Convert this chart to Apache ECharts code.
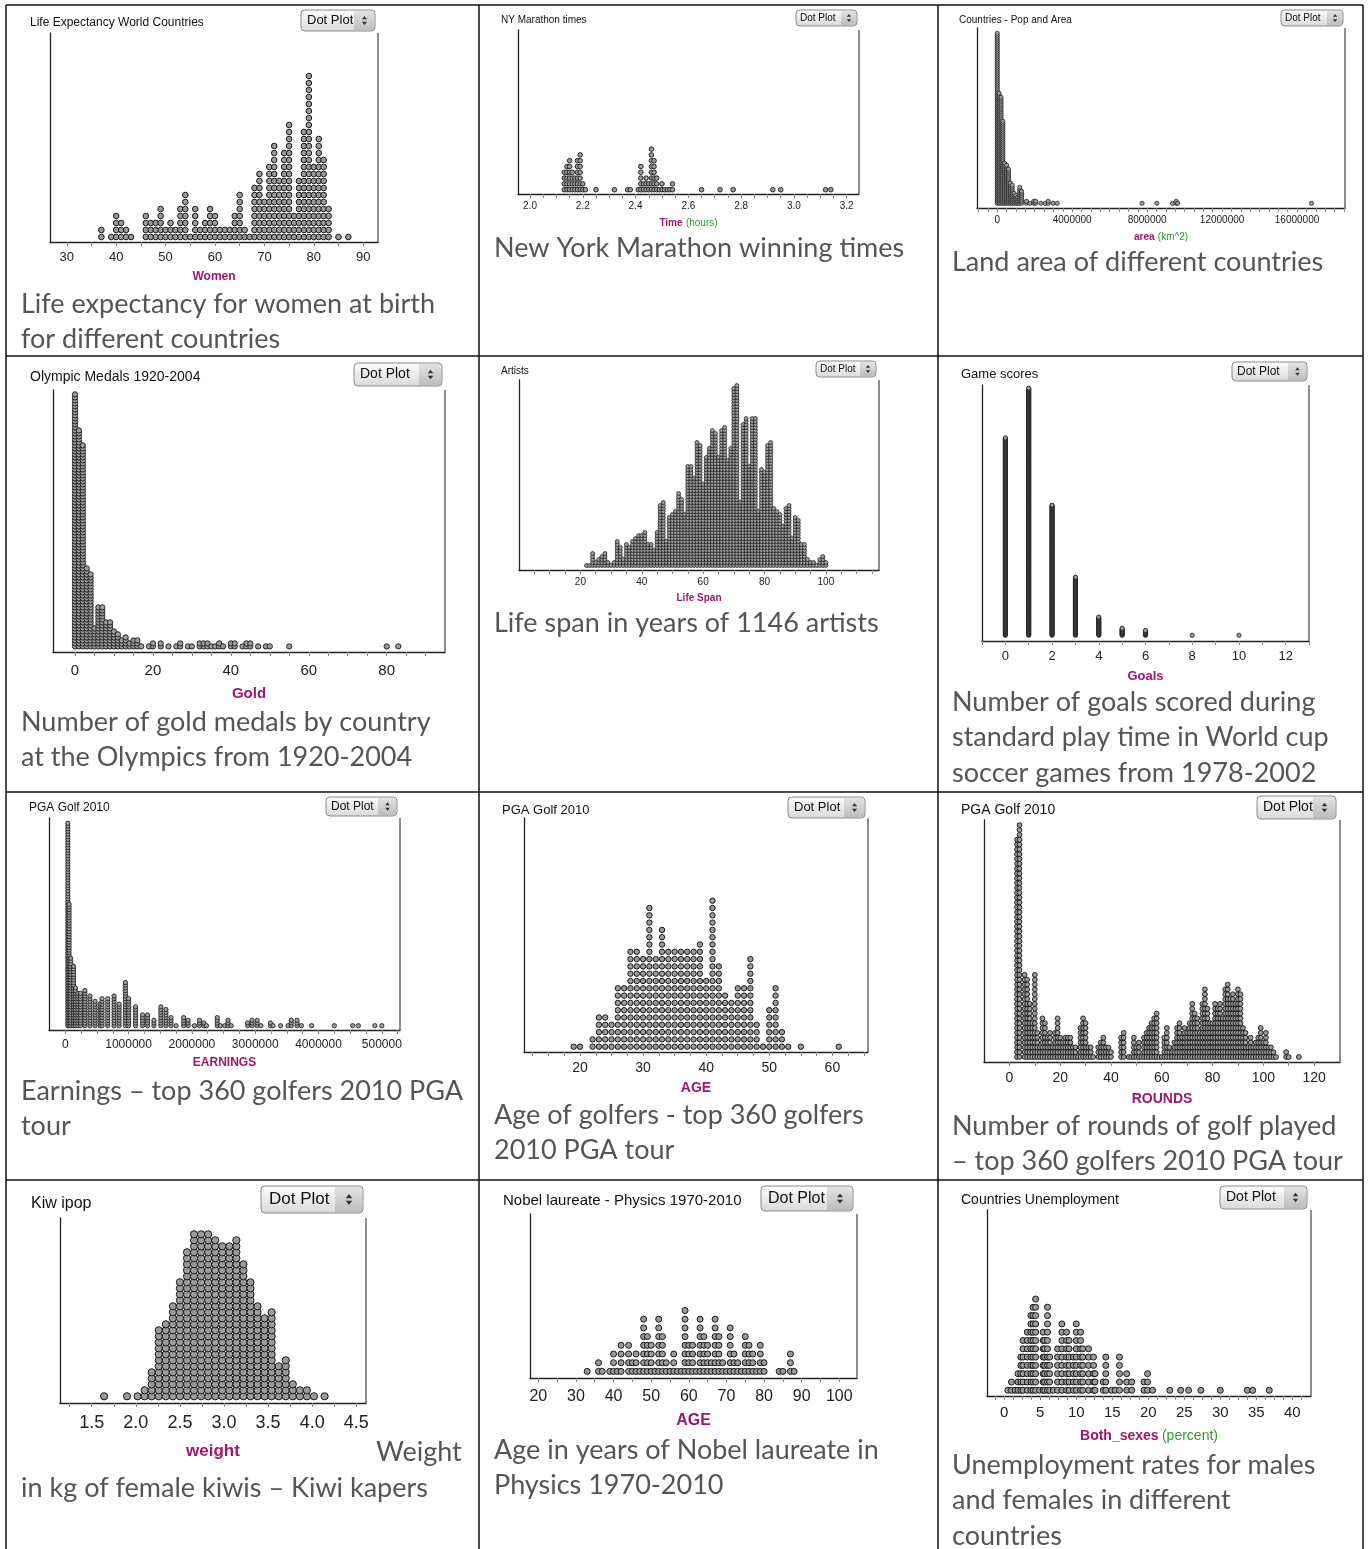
<!DOCTYPE html>
<html>
<head>
<meta charset="utf-8">
<title>Dot plots</title>
<script src="https://cdn.jsdelivr.net/npm/echarts@6/dist/echarts.min.js"></script>
<style>
  html, body { margin: 0; padding: 0; background: #fff; }
  #main { width: 1369px; height: 1549px; }
</style>
</head>
<body>
<div id="main"></div>
<script>
// each dot plot = values + how many dots are stacked on each value

// life expectancy, women
const lifeVals = [37,39,40,41,42,43,46,47,48,49,50,51,52,53,54,55,56,57,58,59,60,61,62,63,64,65,66,67,68,69,70,71,72,73,74,75,76,77,78,79,80,81,82,83,85,87];
const lifeCounts = [2,1,4,3,2,1,4,3,3,5,2,3,2,5,7,1,5,2,3,5,4,2,2,2,4,7,2,1,8,10,6,11,14,9,13,17,4,9,16,24,11,15,12,5,1,1];
const lifeTicks = [30,40,50,60,70,80,90];

// NY marathon winning times (hours)
const marathonVals = [2.13,2.14,2.15,2.16,2.17,2.18,2.19,2.20,2.21,2.25,2.32,2.37,2.38,2.41,2.42,2.43,2.44,2.45,2.46,2.47,2.48,2.49,2.50,2.51,2.52,2.53,2.54,2.65,2.72,2.77,2.92,2.95,3.12,3.14];
const marathonCounts = [4,5,6,4,3,6,7,2,1,1,1,1,1,1,5,2,3,2,8,6,3,1,2,1,1,1,2,1,1,1,1,1,1,1];
const marathonTicks = [2.0,2.2,2.4,2.6,2.8,3.0,3.2];

// land area (km^2)
const areaVals = [0,100000,200000,300000,400000,500000,600000,700000,800000,900000,1000000,1100000,1200000,1300000,1560000,1750000,1950000,2050000,2330000,2560000,2720000,2980000,3200000,7730000,8520000,9350000,9550000,9630000,16770000];
const areaCounts = [86,56,54,42,21,20,18,11,10,6,5,4,9,7,2,1,2,2,1,1,2,1,1,1,1,1,2,1,1];
const areaTicks = [0,4000000,8000000,12000000,16000000];

// olympic gold medals
const goldVals = [0,1,2,3,4,5,6,7,8,9,10,11,12,13,14,15,16,17,19,20,22,24,26,27,29,30,32,33,34,35,36,37,38,40,41,43,44,45,47,49,50,55,80,83];
const goldCounts = [85,73,68,27,25,7,14,14,9,9,6,5,3,4,2,3,3,1,1,2,2,1,1,2,1,1,2,2,2,1,1,2,1,2,2,1,2,2,1,1,1,1,1,1];
const goldTicks = [0,20,40,60,80];

// artists life span
const spanVals = [22,23,24,25,26,27,28,29,30,31,32,33,34,35,36,37,38,39,40,41,42,43,44,45,46,47,48,49,50,51,52,53,54,55,56,57,58,59,60,61,62,63,64,65,66,67,68,69,70,71,72,73,74,75,76,77,78,79,80,81,82,83,84,85,86,87,88,89,90,91,92,93,94,95,96,97,98,99,100];
const spanCounts = [1,1,5,2,3,4,5,2,1,2, 9,7,3,8,7,9,10,11,11,12, 8,8,6,12,21,22,9,17,18,19, 25,23,18,34,34,30,42,41,28,37, 40,46,45,37,46,47,36,40,60,61, 22,48,50,34,50,50,19,33,32,41, 42,20,19,18,14,20,21,10,17,16, 8,8,3,2,2,1,3,4,2];
const spanTicks = [20,40,60,80,100];

// world cup goals per game
const goalVals = [0,1,2,3,4,5,6,8,10];
const goalCounts = [283,354,187,84,27,11,8,1,1];
const goalTicks = [0,2,4,6,8,10,12];

// PGA 2010 earnings
const earnVals = [40000,60000,85000,130000,160000,200000,240000,310000,390000,470000,550000,580000,670000,770000,850000,950000,1000000,1110000,1220000,1300000,1400000,1510000,1590000,1670000,1750000,1870000,1940000,2040000,2120000,2190000,2230000,2400000,2450000,2520000,2570000,2620000,2880000,2950000,3030000,3090000,3240000,3280000,3400000,3520000,3570000,3660000,3730000,3890000,4250000,4540000,4630000,4890000,5000000];
const earnCounts = [76,46,26,23,15,13,13,14,12,10,9,11,11,12,9,17,11,8,5,5,3,8,7,4,1,4,3,1,3,2,1,4,1,1,3,1,2,3,3,1,2,1,1,1,3,3,1,1,1,1,1,1,1];
const earnTicks = [0,1000000,2000000,3000000,4000000,5000000];
const earnTickText = ['0','1000000','2000000','3000000','4000000','500000'];

// PGA 2010 age
const ageVals = [19,20,22,23,24,25,26,27,28,29,30,31,32,33,34,35,36,37,38,39,40,41,42,43,44,45,46,47,48,49,50,51,52,53,55,61];
const ageCounts = [1,1,2,5,5,4,9,9,14,14,13,20,13,17,14,14,14,14,14,15,10,21,12,8,7,9,9,13,4,1,6,9,3,1,1,1];
const ageTicks = [20,30,40,50,60];

// PGA 2010 rounds
const roundVals = [3,4,6,7,8,9,10,11,12,13,14,15,16,17,18,19,20,21,22,23,24,25,26,27,28,29,30,31,32,33,35,36,37,38,39,40,44,45,47,48,49,50,51,52,53,54,55,56,57,58,59,60,61,62,63,64,65,66,67,68,69,70,71,72,73,74,75,76,77,78,79,80,81,82,83,84,85,86,87,88,89,90,91,92,93,94,95,96,97,98,99,100,101,102,103,104,105,109,110,114];
const roundCounts = [46,49,18,17,12,8,18,6,3,9,8,5,6,3,6,9,5,4,5,5,5,3,3,1,7,9,8,3,3,1,3,4,5,3,3,2,5,6,1,1,5,3,4,1,5,6,7,8,9,10,1,1,5,7,3,2,4,7,8,5,7,6,8,12,10,9,6,12,15,11,8,8,12,11,12,9,15,16,13,14,12,15,14,7,6,3,5,3,4,5,7,4,6,3,3,2,1,2,1,1];
const roundTicks = [0,20,40,60,80,100,120];

// kiwi weights (kg)
const kiwiVals = [1.64,1.90,2.02,2.10,2.18,2.26,2.34,2.42,2.50,2.58,2.66,2.74,2.82,2.90,2.98,3.06,3.14,3.22,3.30,3.38,3.46,3.54,3.62,3.70,3.78,3.86,3.94,4.02,4.14];
const kiwiCounts = [1,1,1,2,5,12,13,16,20,25,28,28,28,27,26,26,27,23,20,16,14,15,6,7,3,2,2,1,1];
const kiwiTicks = [1.5,2.0,2.5,3.0,3.5,4.0,4.5];

// nobel physics laureates age
const nobelVals = [33,36,37,39,40,41,42,44,45,46,47,48,49,50,51,52,53,54,55,56,57,58,59,60,61,62,63,64,65,66,67,68,69,70,71,72,73,74,75,76,77,78,79,80,84,85,87,88];
const nobelCounts = [1,2,1,1,3,1,4,4,2,3,1,7,5,4,1,7,5,2,1,3,1,1,8,4,4,1,7,5,4,2,7,5,2,1,6,3,2,1,5,4,3,1,4,2,1,1,3,1];
const nobelTicks = [20,30,40,50,60,70,80,90,100];

// unemployment, both sexes (percent)
const unempVals = [0.5,1.0,1.5,1.9,2.3,2.6,3.2,3.7,4.0,4.35,4.9,5.4,5.6,6.0,6.3,6.8,7.4,8.0,8.65,9.0,9.6,10.0,10.6,10.9,11.7,12.4,12.6,13.75,14.1,14.9,15.4,16.0,17.0,17.7,19.4,19.9,20.6,23.0,24.5,25.6,27.3,30.0,33.75,34.5,36.8];
const unempCounts = [1,2,1,3,5,7,8,10,11,12,1,8,7,11,5,1,6,9,8,7,5,9,8,6,6,5,3,2,5,1,1,5,3,2,2,3,1,1,1,1,1,1,1,1,1];
const unempTicks = [0,5,10,15,20,25,30,35,40];

// ---- look ----
const MAG = '#a0166c';
const GREEN = '#2e9a2e';
const SANS = '"Liberation Sans", Arial, sans-serif';
const CAPTION_FONT = 'Lato, "Open Sans", sans-serif';

const fixed1 = v => v.toFixed(1);
const plain = v => String(v);

// box = [left, top, right, axisY]; tick = [from, to, step]
const panels = [
  { vals: lifeVals, counts: lifeCounts, labels: lifeTicks, fmt: plain,
    box: [50, 33, 378, 242], xMin: 26.6, xMax: 93.0, tick: [30, 90, 5],
    fs: 13, margin: 8.5, name: '{a|Women}', nameFs: 12, nameY: 277,
    dot: 5.6, step: 7, off: 5, bw: 1,
    title: 'Life Expectancy World Countries', titleFs: 12, titleXY: [30, 23],
    btn: [301, 10, 74, 21],
    caption: 'Life expectancy for women at birth\nfor different countries', capXY: [21, 304] },
  { vals: marathonVals, counts: marathonCounts, labels: marathonTicks, fmt: fixed1,
    box: [518, 30, 859, 194], xMin: 1.9545, xMax: 3.2467, tick: [2.0, 3.2, 0.05],
    fs: 10, margin: 7, name: '{a|Time} {b|(hours)}', nameFs: 10, nameY: 222,
    dot: 4.6, step: 5.8, off: 4.3, bw: 0.9,
    title: 'NY Marathon times', titleFs: 10, titleXY: [501, 20],
    btn: [796, 10, 61, 16],
    caption: 'New York Marathon winning times', capXY: [494, 248] },
  { vals: areaVals, counts: areaCounts, labels: areaTicks, fmt: plain,
    box: [977, 28, 1345, 208], xMin: -1080000, xMax: 18560000, tick: [-1000000, 18500000, 500000],
    fs: 10, margin: 7, name: '{a|area} {b|(km^2)}', nameFs: 10, nameY: 236,
    dot: 4.2, step: 2, off: 4.7, bw: 0.7,
    title: 'Countries - Pop and Area', titleFs: 10, titleXY: [959, 20],
    btn: [1281, 10, 62, 16],
    caption: 'Land area of different countries', capXY: [952, 262] },
  { vals: goldVals, counts: goldCounts, labels: goldTicks, fmt: plain,
    box: [53, 390, 445, 652], xMin: -5.65, xMax: 94.97, tick: [0, 90, 5],
    fs: 15, margin: 11, name: '{a|Gold}', nameFs: 15, nameY: 694,
    dot: 5.3, step: 3, off: 5.6, bw: 0.9,
    title: 'Olympic Medals 1920-2004', titleFs: 14, titleXY: [30, 377],
    btn: [354, 363, 88, 23],
    caption: 'Number of gold medals by country\nat the Olympics from 1920-2004', capXY: [21, 722] },
  { vals: spanVals, counts: spanCounts, labels: spanTicks, fmt: plain,
    box: [519, 380, 879, 570], xMin: 0, xMax: 117.3, tick: [5, 115, 5],
    fs: 10, margin: 7, name: '{a|Life Span}', nameFs: 10, nameY: 598,
    dot: 4, step: 3, off: 4.5, bw: 0.7,
    title: 'Artists', titleFs: 10, titleXY: [501, 371],
    btn: [816, 361, 60, 16],
    caption: 'Life span in years of 1146 artists', capXY: [494, 623] },
  { vals: goalVals, counts: goalCounts, labels: goalTicks, fmt: plain,
    box: [982, 385, 1309, 641], xMin: -1, xMax: 13, tick: [-1, 13, 1],
    fs: 13, margin: 9, name: '{a|Goals}', nameFs: 13, nameY: 676,
    dot: 4.2, step: 0.7, off: 5.7, bw: 0.8,
    title: 'Game scores', titleFs: 13, titleXY: [961, 374],
    btn: [1232, 362, 75, 19],
    caption: 'Number of goals scored during\nstandard play time in World cup\nsoccer games from 1978-2002', capXY: [952, 702] },
  { vals: earnVals, counts: earnCounts, labels: earnTicks, fmt: v => earnTickText[earnTicks.indexOf(v)],
    box: [49, 818, 400, 1030], xMin: -257500, xMax: 5287000, tick: [0, 5250000, 250000],
    fs: 12, margin: 9, name: '{a|EARNINGS}', nameFs: 12, nameY: 1063,
    dot: 4.3, step: 2.7, off: 4.3, bw: 0.8,
    title: 'PGA Golf 2010', titleFs: 12, titleXY: [29, 808],
    btn: [326, 797, 71, 19],
    caption: 'Earnings \u2013 top 360 golfers 2010 PGA\ntour', capXY: [21, 1091] },
  { vals: ageVals, counts: ageCounts, labels: ageTicks, fmt: plain,
    box: [524, 818, 868, 1052], xMin: 11.13, xMax: 65.64, tick: [12.5, 65, 2.5],
    fs: 14, margin: 9, name: '{a|AGE}', nameFs: 14, nameY: 1088,
    dot: 5.4, step: 7.3, off: 5.3, bw: 1,
    title: 'PGA Golf 2010', titleFs: 13, titleXY: [502, 810],
    btn: [788, 797, 77, 21],
    caption: 'Age of golfers - top 360 golfers\n2010 PGA tour', capXY: [494, 1115] },
  { vals: roundVals, counts: roundCounts, labels: roundTicks, fmt: plain,
    box: [984, 820, 1340, 1062], xMin: -10, xMax: 130.2, tick: [0, 120, 10],
    fs: 14, margin: 9, name: '{a|ROUNDS}', nameFs: 14, nameY: 1099,
    dot: 4.8, step: 4.83, off: 5, bw: 0.9,
    title: 'PGA Golf 2010', titleFs: 14, titleXY: [961, 810],
    btn: [1257, 796, 79, 23],
    caption: 'Number of rounds of golf played\n\u2013 top 360 golfers 2010 PGA tour', capXY: [952, 1126] },
  { vals: kiwiVals, counts: kiwiCounts, labels: kiwiTicks, fmt: fixed1,
    box: [60, 1218, 366, 1403], xMin: 1.14, xMax: 4.61, tick: [1.25, 4.5, 0.25],
    fs: 18, margin: 11.5, name: '{a|weight}', nameFs: 17, nameY: 1451,
    dot: 7.2, step: 6, off: 6.7, bw: 1,
    title: 'Kiw ipop', titleFs: 16, titleXY: [31, 1204],
    btn: [261, 1186, 102, 27],
    caption: 'in kg of female kiwis \u2013 Kiwi kapers', capXY: [21, 1488],
    extra: { text: 'Weight', xy: [376, 1452] } },
  { vals: nobelVals, counts: nobelCounts, labels: nobelTicks, fmt: plain,
    box: [530, 1214, 857, 1378], xMin: 17.8, xMax: 104.7, tick: [20, 100, 5],
    fs: 16, margin: 10.5, name: '{a|AGE}', nameFs: 16, nameY: 1421,
    dot: 6, step: 8.7, off: 6.6, bw: 1,
    title: 'Nobel laureate - Physics 1970-2010', titleFs: 15, titleXY: [503, 1201],
    btn: [761, 1186, 92, 25],
    caption: 'Age in years of Nobel laureate in\nPhysics 1970-2010', capXY: [494, 1450] },
  { vals: unempVals, counts: unempCounts, labels: unempTicks, fmt: plain,
    box: [987, 1210, 1311, 1396], xMin: -2.4, xMax: 42.6, tick: [-1.25, 41.25, 1.25],
    fs: 15, margin: 9.5, name: '{a|Both_sexes} {b|(percent)}', nameFs: 14, nameY: 1436,
    dot: 6, step: 8.3, off: 5.7, bw: 1,
    title: 'Countries Unemployment', titleFs: 14, titleXY: [961, 1200],
    btn: [1220, 1186, 87, 23],
    caption: 'Unemployment rates for males\nand females in different\ncountries', capXY: [952, 1465] }
];

function tickRange(from, to, step) {
  const out = [];
  const n = Math.round((to - from) / step);
  for (let i = 0; i <= n; i++) out.push(+(from + i * step).toFixed(6));
  return out;
}

function stackDots(vals, counts) {
  const pts = [];
  vals.forEach((v, i) => {
    for (let k = 0; k < counts[i]; k++) pts.push([v, k]);
  });
  return pts;
}

function button(b) {
  const [x, y, w, h] = b;
  const seg = Math.round(h * 1.02);
  const fs = Math.round(h * 0.62);
  const cx = w - seg / 2;
  const a = Math.max(2.2, h * 0.12);
  return {
    type: 'group', x: x, y: y, children: [
      { type: 'rect', shape: { x: 0, y: 0, width: w, height: h, r: 4 },
        style: { fill: new echarts.graphic.LinearGradient(0, 0, 0, 1, [
          { offset: 0, color: '#fdfdfd' }, { offset: 1, color: '#d9d9d9' }]),
          stroke: '#8a8a8a', lineWidth: 1 } },
      { type: 'rect', shape: { x: w - seg, y: 1, width: seg - 1, height: h - 2, r: [0, 3, 3, 0] },
        style: { fill: new echarts.graphic.LinearGradient(0, 0, 0, 1, [
          { offset: 0, color: '#e2e2e2' }, { offset: 1, color: '#bdbdbd' }]) } },
      { type: 'text', x: Math.round(h * 0.28), y: h / 2,
        style: { text: 'Dot Plot', font: fs + 'px ' + SANS, fill: '#111',
          verticalAlign: 'middle', textVerticalAlign: 'middle' } },
      { type: 'polygon', shape: { points: [[cx - a, h / 2 - 1.2], [cx + a, h / 2 - 1.2], [cx, h / 2 - 1.2 - a * 1.3]] },
        style: { fill: '#333' } },
      { type: 'polygon', shape: { points: [[cx - a, h / 2 + 1.2], [cx + a, h / 2 + 1.2], [cx, h / 2 + 1.2 + a * 1.3]] },
        style: { fill: '#333' } }
    ]
  };
}

function textEl(x, y, text, font, fill, lineHeight) {
  return { type: 'text', x: x, y: y,
    style: { text: text, font: font, fill: fill, lineHeight: lineHeight,
      verticalAlign: 'top', textVerticalAlign: 'top' } };
}

const CAP_LH = 35.5;
const CAP_SIZE = 27;
const graphics = [];

// table frame
[6, 479, 938, 1363].forEach(x => graphics.push({ type: 'line',
  shape: { x1: x, y1: 5, x2: x, y2: 1549 }, style: { stroke: '#111', lineWidth: 1.5 } }));
[5, 356, 792, 1180].forEach(y => graphics.push({ type: 'line',
  shape: { x1: 6, y1: y, x2: 1363, y2: y }, style: { stroke: '#111', lineWidth: 1.5 } }));

panels.forEach(p => {
  const [l, t, r, b] = p.box;
  graphics.push({ type: 'line', shape: { x1: r, y1: t, x2: r, y2: b },
    style: { stroke: '#444', lineWidth: 1.2 } });
  graphics.push({ type: 'text', x: p.titleXY[0], y: p.titleXY[1],
    style: { text: p.title, font: p.titleFs + 'px ' + SANS, fill: '#111',
      verticalAlign: 'middle', textVerticalAlign: 'middle' } });
  graphics.push(button(p.btn));
  graphics.push(textEl(p.capXY[0], p.capXY[1] - CAP_LH / 2, p.caption,
    CAP_SIZE + 'px ' + CAPTION_FONT, '#555', CAP_LH));
  if (p.extra) {
    graphics.push(textEl(p.extra.xy[0], p.extra.xy[1] - CAP_LH / 2, p.extra.text,
      CAP_SIZE + 'px ' + CAPTION_FONT, '#555', CAP_LH));
  }
});

const option = {
  animation: false,
  grid: panels.map(p => ({
    left: p.box[0], top: p.box[1], width: p.box[2] - p.box[0], height: p.box[3] - p.box[1]
  })),
  xAxis: panels.map((p, i) => ({
    gridIndex: i, type: 'value', min: p.xMin, max: p.xMax,
    axisLine: { show: true, onZero: false, lineStyle: { color: '#222', width: 1.3 } },
    axisTick: { show: true, length: 4, lineStyle: { color: '#888' },
      customValues: tickRange(p.tick[0], p.tick[1], p.tick[2]) },
    axisLabel: { customValues: p.labels, formatter: p.fmt, fontSize: p.fs,
      fontFamily: SANS, color: '#222', margin: p.margin },
    splitLine: { show: false },
    name: p.name, nameLocation: 'middle',
    nameGap: p.nameY - p.box[3] - p.nameFs / 2,
    nameTextStyle: { rich: {
      a: { fontWeight: 'bold', color: MAG, fontSize: p.nameFs, fontFamily: SANS },
      b: { color: GREEN, fontSize: p.nameFs, fontFamily: SANS }
    } }
  })),
  yAxis: panels.map((p, i) => {
    const yMin = -p.off / p.step;
    return {
      gridIndex: i, type: 'value', min: yMin, max: yMin + (p.box[3] - p.box[1]) / p.step,
      axisLine: { show: true, onZero: false, lineStyle: { color: '#222', width: 1.3 } },
      axisTick: { show: false }, axisLabel: { show: false }, splitLine: { show: false }
    };
  }),
  series: panels.map((p, i) => ({
    type: 'scatter', xAxisIndex: i, yAxisIndex: i,
    data: stackDots(p.vals, p.counts),
    symbol: 'circle', symbolSize: p.dot, clip: false,
    itemStyle: { color: '#9b9b9b', borderColor: '#161616', borderWidth: p.bw, opacity: 1 },
    emphasis: { disabled: true }
  })),
  graphic: graphics
};

const chart = echarts.init(document.getElementById('main'), null, { renderer: 'canvas' });
chart.setOption(option);
</script>
</body>
</html>
